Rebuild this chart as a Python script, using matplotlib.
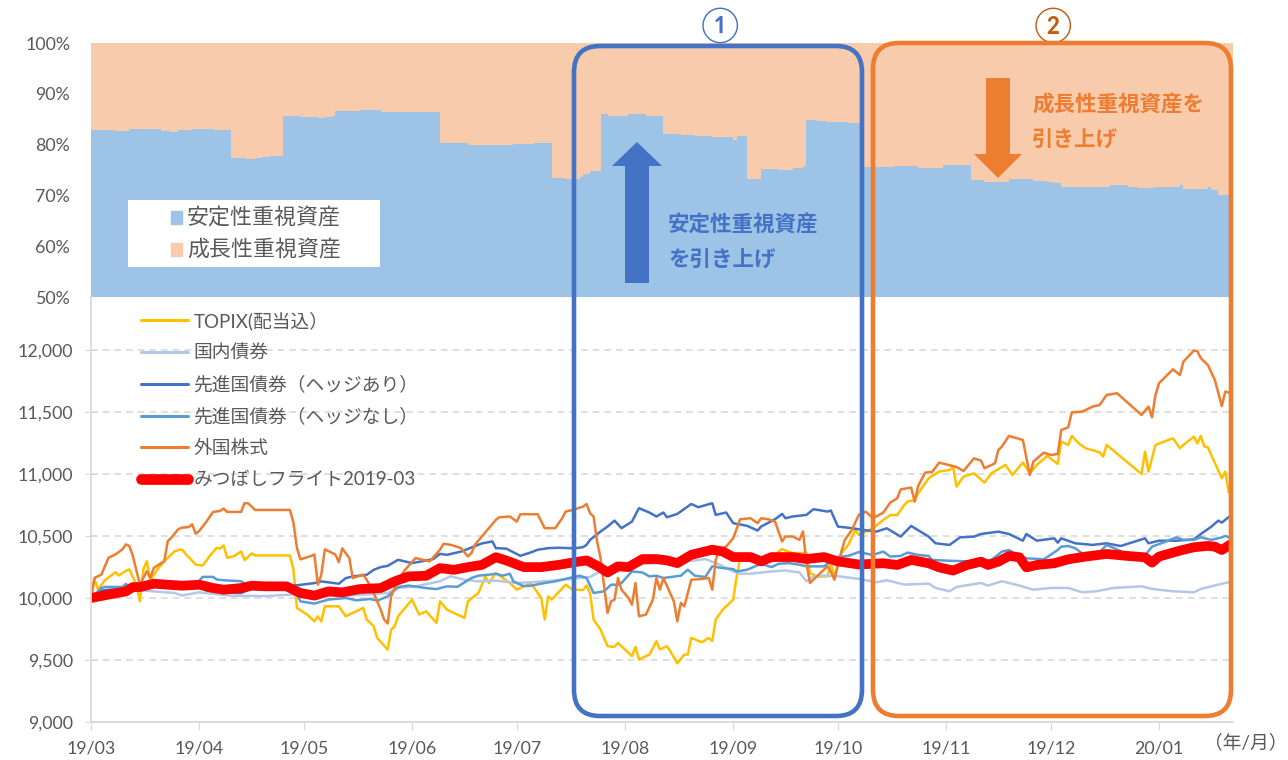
import matplotlib
matplotlib.use("Agg")
import matplotlib.pyplot as plt
import matplotlib.dates as mdates
import matplotlib.ticker as mticker
from matplotlib.patches import FancyBboxPatch, FancyArrow, Rectangle, Patch
from matplotlib.lines import Line2D
from matplotlib.transforms import IdentityTransform
import pandas as pd

plt.rcParams['font.family'] = ['Lato', 'Noto Sans CJK JP', 'DejaVu Sans']

# ---------------- data (elapsed days since 2019-03-01, values) ----------------
START = pd.Timestamp("2019-03-01")
END = pd.Timestamp("2020-01-22 05:00")

alloc_days = [0, 7, 11, 15, 20, 23, 25, 29, 35, 40, 44, 47, 49, 51, 55, 60, 65, 67, 69,
              70, 74, 77, 83, 100, 108, 113, 121, 127, 132, 136, 140, 141, 143, 146, 148,
              154, 159, 164, 169, 173, 178, 184, 185, 188, 192, 197, 201, 204, 205, 208,
              211, 217, 221, 225, 230, 237, 244, 252, 256, 263, 270, 274, 276, 278, 285,
              292, 297, 300, 305, 312, 313, 320, 321, 323, 327.3]
alloc_stable = [82.9, 82.7, 83.1, 83.0, 82.7, 82.5, 82.9, 83.1, 82.9, 77.3, 77.1, 77.3, 77.6,
                77.8, 85.6, 85.5, 85.3, 85.5, 85.7, 86.6, 86.7, 86.8, 86.5, 80.3, 80.0, 79.9,
                80.1, 80.3, 73.4, 73.2, 73.7, 74.2, 74.9, 86.0, 85.6, 86.0, 85.7, 82.1, 81.9,
                81.7, 81.4, 81.0, 81.7, 73.2, 75.1, 75.0, 75.3, 75.7, 84.8, 84.7, 84.5, 84.3,
                75.6, 75.5, 75.8, 75.3, 75.9, 73.0, 72.7, 73.2, 72.9, 72.7, 72.5, 71.7, 71.7,
                72.0, 71.7, 71.4, 71.7, 72.0, 71.2, 71.7, 71.1, 70.1, 69.9]

topix_days = [0, 1, 2, 4, 7, 8, 10, 11, 13, 14, 15, 16, 17, 19, 21, 24, 26, 27, 30, 32, 34, 36,
              37, 38, 39, 41, 43, 44, 46, 47, 57, 58, 59, 62, 64, 65, 66, 67, 71, 73, 78, 79,
              81, 82, 85, 86, 87, 88, 92, 94, 96, 99, 100, 102, 107, 108, 111, 113, 114, 116,
              120, 122, 126, 129, 130, 131, 132, 136, 138, 141, 142, 143, 144, 146, 148, 150,
              151, 153, 155, 156, 157, 160, 162, 163, 165, 166, 168, 170, 171, 172, 175, 177,
              178, 179, 181, 184, 185, 186, 189, 195, 197, 198, 201, 205, 206, 208, 211, 212,
              213, 215, 217, 219, 220, 222, 224, 227, 229, 231, 233, 234, 236, 237, 240, 243,
              246, 247, 248, 250, 253, 256, 258, 262, 264, 267, 269, 271, 274, 277, 278, 280,
              281, 283, 285, 289, 290, 291, 301, 302, 303, 305, 310, 312, 313, 316, 317, 318,
              319, 320, 324, 325, 326, 327]
topix_vals = [10000, 10154, 10068, 10143, 10208, 10181, 10219, 10230, 10108, 9973, 10230,
              10297, 10143, 10230, 10297, 10378, 10392, 10359, 10270, 10262, 10338, 10405,
              10397, 10424, 10324, 10338, 10375, 10305, 10359, 10343, 10343, 10230, 9919, 9865,
              9811, 9851, 9811, 9933, 9933, 9853, 9920, 9826, 9772, 9678, 9584, 9745, 9772,
              9853, 9987, 9866, 9893, 9799, 9973, 9906, 9839, 9973, 10040, 10174, 10121, 10201,
              10121, 10067, 10121, 10000, 9826, 10013, 9987, 10107, 10067, 10065, 10100, 10035,
              9826, 9745, 9611, 9606, 9638, 9585, 9531, 9606, 9504, 9544, 9652, 9585, 9611,
              9571, 9472, 9544, 9544, 9678, 9643, 9678, 9652, 9826, 9906, 9987, 10174, 10322,
              10348, 10308, 10375, 10394, 10362, 10362, 10201, 10174, 10174, 10281, 10174,
              10362, 10429, 10549, 10508, 10535, 10562, 10629, 10669, 10669, 10750, 10777,
              10790, 10844, 10965, 11019, 11032, 11059, 10898, 10979, 11005, 10930, 11005,
              11073, 10992, 11092, 11005, 11073, 11145, 11081, 11261, 11234, 11307, 11247,
              11207, 11175, 11140, 11234, 11000, 11180, 11019, 11234, 11288, 11207, 11234,
              11301, 11247, 11307, 11221, 11215, 10965, 11019, 10850, 10919]

jgb_days = [0, 6, 15, 24, 26, 31, 40, 50, 57, 64, 70, 77, 85, 88, 93, 100, 103, 107, 111, 116,
            122, 130, 135, 140, 143, 145, 149, 152, 159, 163, 168, 173, 176, 180, 184, 186,
            189, 195, 199, 203, 205, 207, 210, 214, 220, 225, 228, 233, 240, 242, 246, 248,
            255, 257, 261, 266, 270, 275, 280, 284, 288, 293, 301, 304, 310, 316, 318, 323, 326]
jgb_vals = [10000, 10050, 10060, 10040, 10020, 10046, 10019, 10015, 10027, 10020, 10019, 10025,
            10040, 10081, 10094, 10135, 10175, 10147, 10134, 10140, 10121, 10134, 10147, 10161,
            10169, 10201, 10249, 10255, 10276, 10281, 10295, 10303, 10314, 10270, 10214, 10196,
            10196, 10214, 10222, 10206, 10134, 10174, 10180, 10176, 10154, 10127, 10143, 10108,
            10116, 10081, 10054, 10089, 10121, 10100, 10135, 10100, 10067, 10081, 10081, 10046,
            10054, 10081, 10094, 10073, 10054, 10046, 10073, 10108, 10127]

fbh_days = [0, 3, 10, 20, 30, 33, 38, 43, 46, 56, 58, 64, 66, 71, 73, 75, 79, 81, 83, 85, 88,
            92, 98, 100, 102, 106, 112, 115, 116, 119, 123, 126, 128, 131, 134, 137, 139, 141,
            142, 143, 146, 148, 150, 152, 155, 157, 160, 162, 164, 165, 168, 172, 174, 178,
            179, 182, 184, 188, 191, 192, 196, 198, 199, 201, 205, 207, 211, 212, 214, 218,
            220, 225, 228, 232, 235, 240, 242, 246, 249, 253, 255, 260, 263, 267, 268, 271,
            276, 277, 278, 282, 287, 291, 295, 302, 303, 306, 311, 316, 318, 321, 323, 324, 327]
fbh_vals = [10000, 10060, 10080, 10100, 10110, 10060, 10045, 10040, 10075, 10080, 10099,
            10120, 10134, 10115, 10160, 10174, 10187, 10227, 10249, 10259, 10308, 10281, 10313,
            10356, 10348, 10374, 10440, 10456, 10402, 10398, 10340, 10367, 10389, 10402, 10405,
            10402, 10402, 10410, 10429, 10469, 10536, 10576, 10624, 10563, 10616, 10724, 10689,
            10657, 10689, 10651, 10678, 10758, 10732, 10764, 10670, 10689, 10603, 10582, 10544,
            10576, 10635, 10678, 10643, 10657, 10670, 10716, 10697, 10705, 10576, 10563, 10554,
            10535, 10562, 10495, 10581, 10495, 10441, 10428, 10489, 10495, 10516, 10535, 10516,
            10462, 10516, 10462, 10481, 10446, 10481, 10441, 10428, 10441, 10419, 10481, 10441,
            10462, 10462, 10473, 10516, 10575, 10624, 10608, 10675]

fbu_days = [0, 3, 4, 9, 10, 11, 20, 30, 32, 35, 36, 38, 43, 45, 57, 59, 60, 64, 68, 73, 76,
            80, 82, 85, 88, 91, 96, 99, 102, 105, 107, 109, 111, 114, 116, 118, 120, 121, 124,
            126, 130, 133, 137, 140, 142, 144, 147, 149, 151, 152, 155, 158, 160, 162, 164,
            169, 171, 173, 176, 178, 181, 184, 185, 188, 192, 195, 197, 200, 203, 205, 210,
            214, 217, 220, 224, 227, 229, 232, 234, 237, 240, 241, 246, 252, 258, 261, 263,
            265, 268, 273, 277, 278, 280, 282, 284, 288, 291, 296, 301, 304, 308, 311, 313,
            316, 318, 321, 324, 325, 327]
fbu_vals = [10000, 10081, 10089, 10089, 10113, 10089, 10095, 10105, 10170, 10170, 10149,
            10143, 10135, 10095, 10090, 10030, 9973, 9955, 9987, 10000, 9981, 9992, 9978, 10013,
            10088, 10100, 10080, 10072, 10094, 10090, 10126, 10161, 10180, 10188, 10195, 10180,
            10196, 10134, 10095, 10099, 10121, 10134, 10161, 10180, 10161, 10040, 10054, 10107,
            10107, 10121, 10214, 10206, 10174, 10180, 10161, 10180, 10228, 10180, 10169, 10255,
            10241, 10233, 10214, 10228, 10276, 10249, 10276, 10281, 10268, 10255, 10255, 10330,
            10340, 10370, 10347, 10374, 10334, 10339, 10366, 10347, 10339, 10307, 10300, 10295,
            10307, 10374, 10387, 10355, 10320, 10312, 10387, 10414, 10419, 10401, 10360, 10339,
            10428, 10366, 10307, 10414, 10455, 10489, 10468, 10468, 10489, 10468, 10489, 10500,
            10481]

feq_days = [0, 1, 3, 5, 7, 9, 10, 11, 12, 14, 16, 17, 18, 21, 22, 23, 25, 26, 28, 29, 30, 31,
            33, 35, 37, 38, 39, 43, 44, 45, 47, 57, 58, 59, 60, 63, 64, 65, 66, 67, 70, 71, 72,
            74, 75, 78, 79, 81, 83, 84, 85, 86, 88, 90, 93, 97, 100, 101, 103, 106, 108, 109,
            110, 112, 114, 116, 117, 120, 122, 123, 128, 130, 133, 135, 136, 138, 141, 142,
            143, 144, 145, 146, 148, 149, 150, 151, 152, 154, 155, 156, 157, 159, 161, 162,
            163, 164, 167, 168, 169, 170, 172, 175, 177, 178, 179, 180, 182, 184, 186, 189,
            191, 192, 194, 196, 198, 199, 201, 203, 204, 205, 206, 208, 210, 211, 212, 213,
            215, 216, 218, 220, 222, 224, 227, 229, 231, 232, 235, 236, 237, 239, 241, 243,
            245, 248, 250, 253, 255, 256, 259, 260, 261, 263, 267, 269, 270, 273, 275, 277,
            278, 280, 281, 284, 287, 289, 291, 294, 301, 303, 304, 305, 306, 310, 312, 313,
            316, 317, 318, 320, 322, 324, 325, 326]
feq_vals = [10000, 10162, 10189, 10324, 10351, 10392, 10432, 10419, 10338, 10108, 10216,
            10162, 10243, 10297, 10459, 10486, 10554, 10567, 10572, 10594, 10518, 10540, 10613,
            10694, 10702, 10721, 10694, 10694, 10764, 10764, 10710, 10710, 10608, 10405, 10311,
            10338, 10351, 10108, 10189, 10392, 10351, 10289, 10400, 10322, 10161, 10188, 10147,
            10040, 9906, 9826, 9794, 10013, 10147, 10228, 10322, 10295, 10389, 10437, 10429,
            10402, 10335, 10362, 10429, 10496, 10563, 10630, 10651, 10657, 10616, 10675, 10675,
            10563, 10563, 10643, 10697, 10710, 10737, 10758, 10683, 10657, 10456, 10322, 9879,
            9973, 9987, 10161, 10067, 10000, 9946, 10121, 9853, 9866, 9987, 10161, 10067, 10161,
            9973, 9812, 9960, 9933, 10147, 10153, 10161, 10067, 10308, 10389, 10415, 10482,
            10635, 10643, 10603, 10643, 10635, 10616, 10456, 10496, 10496, 10469, 10536, 10281,
            10121, 10174, 10228, 10255, 10214, 10147, 10375, 10469, 10549, 10670, 10696, 10643,
            10688, 10769, 10804, 10876, 10890, 10777, 10903, 11011, 11016, 11091, 11078, 11056,
            11024, 11126, 11108, 11046, 11086, 11194, 11221, 11307, 11274, 10992, 11100, 11172,
            11153, 11161, 11355, 11376, 11495, 11503, 11543, 11556, 11637, 11651, 11476, 11543,
            11457, 11637, 11731, 11844, 11798, 11906, 11995, 11990, 11933, 11879, 11758, 11548,
            11664, 11656]

fund_days = [0, 5, 10, 12, 14, 18, 26, 31, 35, 38, 43, 46, 50, 56, 60, 64, 68, 72, 77, 83, 87,
             91, 96, 100, 104, 108, 112, 116, 119, 124, 129, 134, 138, 142, 145, 148, 151, 154,
             158, 162, 165, 168, 172, 174, 178, 181, 184, 189, 192, 195, 201, 205, 210, 214,
             220, 227, 231, 235, 240, 243, 247, 251, 255, 257, 260, 263, 266, 268, 271, 276,
             280, 285, 291, 297, 302, 304, 306, 312, 316, 320, 322, 324, 327]
fund_vals = [10000, 10027, 10053, 10088, 10088, 10115, 10099, 10107, 10080, 10067, 10080,
             10099, 10094, 10094, 10040, 10019, 10053, 10045, 10072, 10080, 10134, 10174,
             10179, 10241, 10227, 10249, 10267, 10329, 10302, 10249, 10249, 10267, 10286,
             10303, 10260, 10206, 10255, 10249, 10314, 10314, 10303, 10281, 10348, 10362,
             10389, 10375, 10330, 10330, 10295, 10330, 10330, 10314, 10330, 10295, 10270,
             10280, 10266, 10307, 10280, 10247, 10221, 10266, 10293, 10266, 10293, 10339,
             10328, 10247, 10266, 10280, 10312, 10334, 10355, 10339, 10328, 10285, 10334,
             10382, 10409, 10420, 10414, 10387, 10441]

series = [
    ("TOPIX(配当込）", topix_days, topix_vals, "#FFC000", 1.8),
    ("国内債券", jgb_days, jgb_vals, "#B4C7E7", 1.8),
    ("先進国債券（ヘッジあり）", fbh_days, fbh_vals, "#4472C4", 1.8),
    ("先進国債券（ヘッジなし）", fbu_days, fbu_vals, "#5B9BD5", 1.8),
    ("外国株式", feq_days, feq_vals, "#ED7D31", 1.8),
    ("みつぼしフライト2019-03", fund_days, fund_vals, "#FF0000", 7.0),
]
alloc_labels = ["安定性重視資産", "成長性重視資産"]
alloc_colors = ["#9DC3E6", "#F8CBAD"]
pct_ticks = [50, 60, 70, 80, 90, 100]
val_ticks = [9000, 9500, 10000, 10500, 11000, 11500, 12000]


def to_dates(days):
    return START + pd.to_timedelta(days, unit="D")


# ---------------- layout ----------------
W, H = 1288, 760
fig = plt.figure(figsize=(W / 100, H / 100), dpi=100)


def fx(x):
    return x / W


def fy(y):
    return 1 - y / H


TXT = "#595959"
GRID = "#D9D9D9"
L, R = 91, 1233

ax_top = fig.add_axes([fx(L), fy(297), fx(R) - fx(L), fy(43) - fy(297)])
ax = fig.add_axes([fx(L), fy(722), fx(R) - fx(L), fy(297) - fy(722)])

# ---------------- top: allocation area ----------------
ad = to_dates(alloc_days)
ax_top.fill_between(ad, 0, alloc_stable, step="post", color=alloc_colors[0], lw=0)
ax_top.fill_between(ad, alloc_stable, 100, step="post", color=alloc_colors[1], lw=0)
ax_top.set_xlim(START, END)
ax_top.set_ylim(50, 100)
ax_top.set_yticks(pct_ticks)
ax_top.yaxis.set_major_formatter(mticker.FuncFormatter(lambda v, p: f"{int(v)}%"))
ax_top.tick_params(axis="y", length=0, pad=15, labelsize=12.8, labelcolor=TXT)
ax_top.set_xticks([])
for s in ax_top.spines.values():
    s.set_visible(False)

# white legend box in top panel
fig.add_artist(Rectangle((128, H - 267), 380 - 128, 267 - 200, transform=IdentityTransform(),
                         facecolor="white", edgecolor="none", zorder=2))
leg1 = fig.legend([Patch(color=c) for c in alloc_colors], alloc_labels,
                  loc="upper left", bbox_to_anchor=(fx(171), fy(208)),
                  frameon=False, fontsize=15.8, handlelength=0.52, handleheight=0.52,
                  handletextpad=0.2, labelspacing=0.5, borderpad=0, borderaxespad=0)
leg1.set_zorder(3)
for t in leg1.get_texts():
    t.set_color(TXT)

# ---------------- bottom: index lines ----------------
for name, d, v, c, lw in series:
    kw = dict(solid_capstyle="round", solid_joinstyle="round") if lw > 3 else {}
    ax.plot(to_dates(d), v, color=c, lw=lw, label=name, **kw)

ax.set_xlim(START, END)
ax.set_ylim(9000, 12427)
ax.set_yticks(val_ticks)
ax.yaxis.set_major_formatter(mticker.FuncFormatter(lambda v, p: f"{int(v):,}"))
ax.yaxis.grid(True, color=GRID, lw=1.2, ls=(0, (4, 3)))
ax.set_axisbelow(True)
ax.xaxis.set_major_locator(mdates.MonthLocator())
ax.xaxis.set_major_formatter(mdates.DateFormatter("%y/%m"))
for side in ("top", "right"):
    ax.spines[side].set_visible(False)
for side in ("left", "bottom"):
    ax.spines[side].set_color(GRID)
    ax.spines[side].set_linewidth(1.3)
ax.tick_params(axis="y", direction="inout", length=8, color=GRID, pad=9,
               labelsize=12.8, labelcolor=TXT)
ax.tick_params(axis="x", direction="out", length=6, color=GRID, pad=7,
               labelsize=12.8, labelcolor=TXT)

handles = [Line2D([], [], color=c, lw=(lw * 1.1 if lw > 3 else 2.2),
                  solid_capstyle="round") for _, _, _, c, lw in series]
leg2 = ax.legend(handles, [s[0] for s in series], loc="upper left",
                 bbox_to_anchor=(fx(141), fy(311)), bbox_transform=fig.transFigure,
                 frameon=False, fontsize=13.5, handlelength=2.5, handletextpad=0.3,
                 labelspacing=0.76, borderpad=0, borderaxespad=0)
for t in leg2.get_texts():
    t.set_color(TXT)

fig.text(fx(1246), fy(742), "（年/月）", ha="center", va="center", fontsize=13.5, color=TXT)

# ---------------- annotations ----------------
BLUE, ORANGE = "#4472C4", "#ED7D31"
IT = IdentityTransform()
fig.add_artist(FancyBboxPatch((574, H - 716), 862 - 574, 716 - 46,
                              boxstyle="round,pad=0,rounding_size=26", transform=IT,
                              fill=False, ec=BLUE, lw=3.3, zorder=5))
fig.add_artist(FancyBboxPatch((873, H - 716), 1231 - 873, 716 - 43,
                              boxstyle="round,pad=0,rounding_size=26", transform=IT,
                              fill=False, ec=ORANGE, lw=3.3, zorder=5))
fig.add_artist(FancyArrow(637, H - 283, 0, 283 - 142, width=24, head_width=50,
                          head_length=24, length_includes_head=True, color=BLUE,
                          transform=IT, zorder=5, lw=0))
fig.add_artist(FancyArrow(998, H - 78, 0, -(178 - 78), width=24, head_width=48,
                          head_length=24, length_includes_head=True, color=ORANGE,
                          transform=IT, zorder=5, lw=0))

fig.text(fx(720), fy(25), "①", ha="center", va="center", fontsize=25, color=BLUE)
fig.text(fx(1053), fy(25), "②", ha="center", va="center", fontsize=25, color="#C55A11")
fig.text(fx(668), fy(224), "安定性重視資産", ha="left", va="center", fontsize=15.5,
         fontweight="bold", color=BLUE)
fig.text(fx(668), fy(260), "を引き上げ", ha="left", va="center", fontsize=15.5,
         fontweight="bold", color=BLUE)
fig.text(fx(1032), fy(105), "成長性重視資産を", ha="left", va="center", fontsize=15.5,
         fontweight="bold", color=ORANGE)
fig.text(fx(1032), fy(140), "引き上げ", ha="left", va="center", fontsize=15.5,
         fontweight="bold", color=ORANGE)

fig.savefig("out.png", dpi=100)
